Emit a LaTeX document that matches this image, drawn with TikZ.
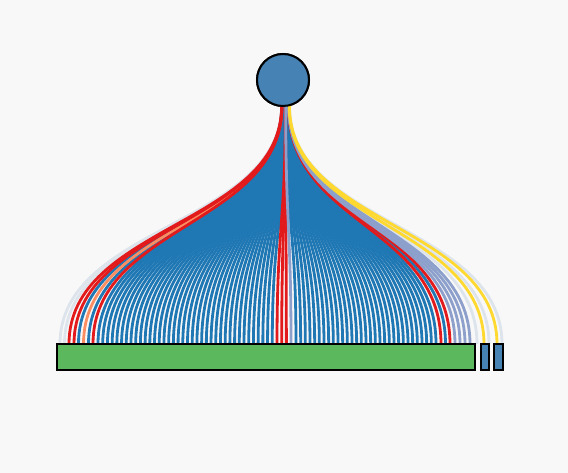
\documentclass[tikz,border=0pt]{standalone}
\usetikzlibrary{calc}
\definecolor{bg}{HTML}{F8F8F8}
\definecolor{lblue}{HTML}{1F77B4}
\definecolor{lred}{HTML}{E31A1C}
\definecolor{lorange}{HTML}{FB8D62}
\definecolor{llav}{HTML}{8DA0CB}
\definecolor{lyel}{HTML}{FFD92F}
\definecolor{lgray}{HTML}{DDE4EC}
\definecolor{steel}{HTML}{4682B4}
\definecolor{green}{HTML}{5CB85C}
\tikzset{
  linkline/.style={line width=2.1pt},
  rootnode/.style={circle, draw=black, line width=1.5pt, fill=steel, minimum size=39pt, inner sep=0pt, outer sep=0pt},
  barnode/.style={rectangle, draw=black, line width=1.5pt, inner sep=0pt, outer sep=0pt, anchor=north west}
}
\newcommand\mylink[2]{%
  \pgfmathsetmacro\sx{281.5+8*(#1-60)/442}%
  \coordinate (t) at (#1,344);%
  \draw[linkline,#2] ($(root.south)+(\sx-283,0)$) .. controls ($(root.south)+(\sx-283,119)$) and ($(t)+(0,-119)$) .. (t);%
}
\begin{document}
\begin{tikzpicture}[x=0.75pt,y=-0.75pt]
\fill[bg] (0,0) rectangle (568,473);
\useasboundingbox (0,0) rectangle (568,473);
\node[rootnode] (root) at (283,80) {};
% gray links
\foreach \x in {60,64.5,477,489,502} {\mylink{\x}{lgray}}
% blue links
\foreach \k in {0,...,37} {\pgfmathsetmacro\xx{98+4.71*\k}\mylink{\xx}{lblue}}
\foreach \k in {0,...,30} {\pgfmathsetmacro\xx{296+4.667*\k}\mylink{\xx}{lblue}}
\foreach \x in {78.5,88.5,445.5} {\mylink{\x}{lblue}}
% orange
\mylink{83.5}{lorange}
% red links
\foreach \x in {69,74,93,277,281.7,286.4,441,450} {\mylink{\x}{lred}}
% lavender
\foreach \x in {291,455,460,465,470} {\mylink{\x}{llav}}
% yellow
\foreach \x in {484,497} {\mylink{\x}{lyel}}
% root on top
\node[rootnode] at (283,80) {};
% bars
\node[barnode, fill=green, minimum width=313.5pt, minimum height=19.5pt] (leafA) at (57,344) {};
\node[barnode, fill=steel, minimum width=6pt, minimum height=19.5pt] (leafB) at (481,344) {};
\node[barnode, fill=steel, minimum width=6.75pt, minimum height=19.5pt] (leafC) at (494,344) {};
\end{tikzpicture}
\end{document}
